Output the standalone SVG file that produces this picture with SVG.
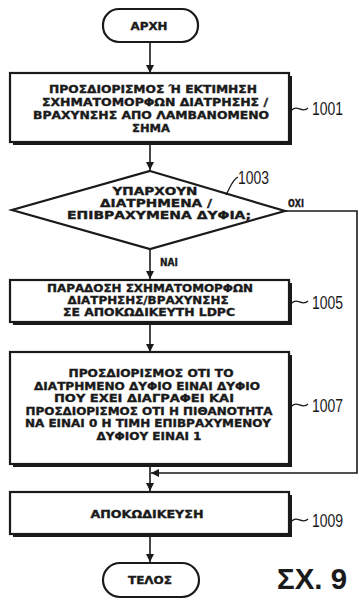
<svg xmlns="http://www.w3.org/2000/svg" width="359" height="601" viewBox="0 0 359 601">
<defs>
<marker id="ah" viewBox="0 0 10 10" refX="10" refY="5" markerWidth="8" markerHeight="8" markerUnits="userSpaceOnUse" orient="auto"><path d="M0,0 L10,5 L0,10 z" fill="#1a1a1a"/></marker>
</defs>
<style>
.box{fill:#fff;stroke:#1a1a1a;stroke-width:2.2}
.sh{fill:#1a1a1a}
.t{font-family:"DejaVu Sans","Liberation Sans",sans-serif;font-weight:bold;font-size:10.2px;fill:#1a1a1a;stroke:#1a1a1a;stroke-width:0.35;text-anchor:middle}
.lbl{font-family:"Liberation Sans",Arial,sans-serif;font-size:18px;fill:#1a1a1a}
.ln{fill:none;stroke:#1a1a1a;stroke-width:1.6}
.ld{fill:none;stroke:#1a1a1a;stroke-width:1.3}
</style>
<rect width="359" height="601" fill="#fff"/>
<g id="connectors">
<line class="ln" x1="150" y1="43" x2="150" y2="73" marker-end="url(#ah)"/>
<line class="ln" x1="150" y1="144" x2="150" y2="170" marker-end="url(#ah)"/>
<line class="ln" x1="150" y1="248" x2="150" y2="279" marker-end="url(#ah)"/>
<line class="ln" x1="150" y1="325" x2="150" y2="352" marker-end="url(#ah)"/>
<line class="ln" x1="150" y1="467" x2="150" y2="491" marker-end="url(#ah)"/>
<line class="ln" x1="150" y1="537" x2="150" y2="562" marker-end="url(#ah)"/>
<polyline class="ln" points="285,211 357,211 357,473 151,473" marker-end="url(#ah)"/>
<text class="t" x="160" y="266" textLength="18" lengthAdjust="spacingAndGlyphs" style="text-anchor:start">ΝΑΙ</text>
<text class="t" x="288" y="207" textLength="16" lengthAdjust="spacingAndGlyphs" style="text-anchor:start">ΟΧΙ</text>
</g>
<g id="start">
<rect class="box" x="103" y="9" width="95" height="33" rx="16" ry="16"/>
<text class="t" x="149" y="29.5" textLength="37" lengthAdjust="spacingAndGlyphs">ΑΡΧΗ</text>
</g>
<g id="n1001">
<rect class="sh" x="13" y="76" width="279" height="69"/>
<rect class="box" x="10" y="73" width="279" height="69"/>
<text class="t" x="153" y="93" textLength="208" lengthAdjust="spacingAndGlyphs">ΠΡΟΣΔΙΟΡΙΣΜΟΣ Ή ΕΚΤΙΜΗΣΗ</text>
<text class="t" x="155" y="106" textLength="226" lengthAdjust="spacingAndGlyphs">ΣΧΗΜΑΤΟΜΟΡΦΩΝ ΔΙΑΤΡΗΣΗΣ /</text>
<text class="t" x="151" y="119" textLength="236" lengthAdjust="spacingAndGlyphs">ΒΡΑΧΥΝΣΗΣ ΑΠΟ ΛΑΜΒΑΝΟΜΕΝΟ</text>
<text class="t" x="151" y="132" textLength="38" lengthAdjust="spacingAndGlyphs">ΣΗΜΑ</text>
<path class="ld" d="M292,110 C297,104 302,114 308,108"/>
<text class="lbl" x="312" y="115" textLength="31" lengthAdjust="spacingAndGlyphs">1001</text>
</g>
<g id="n1003">
<polygon class="box" points="150,171 285,211 150,249 12,210" stroke-width="2.4"/>
<text class="t" x="155" y="195" textLength="85" lengthAdjust="spacingAndGlyphs">ΥΠΑΡΧΟΥΝ</text>
<text class="t" x="156" y="207" textLength="112" lengthAdjust="spacingAndGlyphs">ΔΙΑΤΡΗΜΕΝΑ /</text>
<text class="t" x="159" y="219" textLength="184" lengthAdjust="spacingAndGlyphs">ΕΠΙΒΡΑΧΥΜΕΝΑ ΔΥΦΙΑ;</text>
<path class="ld" d="M226,195 C230,188 232,180 238,177"/>
<text class="lbl" x="238" y="184" textLength="31" lengthAdjust="spacingAndGlyphs">1003</text>
</g>
<g id="n1005">
<rect class="sh" x="13" y="283" width="279" height="42"/>
<rect class="box" x="10" y="280" width="279" height="42"/>
<text class="t" x="150" y="292" textLength="206" lengthAdjust="spacingAndGlyphs">ΠΑΡΑΔΟΣΗ ΣΧΗΜΑΤΟΜΟΡΦΩΝ</text>
<text class="t" x="148" y="304" textLength="161" lengthAdjust="spacingAndGlyphs">ΔΙΑΤΡΗΣΗΣ/ΒΡΑΧΥΝΣΗΣ</text>
<text class="t" x="149" y="316" textLength="172" lengthAdjust="spacingAndGlyphs">ΣΕ ΑΠΟΚΩΔΙΚΕΥΤΗ LDPC</text>
<path class="ld" d="M292,303 C297,297 302,307 308,301"/>
<text class="lbl" x="312" y="309" textLength="31" lengthAdjust="spacingAndGlyphs">1005</text>
</g>
<g id="n1007">
<rect class="sh" x="13" y="355" width="279" height="112"/>
<rect class="box" x="10" y="352" width="279" height="112"/>
<text class="t" x="151" y="377" textLength="165" lengthAdjust="spacingAndGlyphs">ΠΡΟΣΔΙΟΡΙΣΜΟΣ ΟΤΙ ΤΟ</text>
<text class="t" x="147" y="389.5" textLength="226" lengthAdjust="spacingAndGlyphs">ΔΙΑΤΡΗΜΕΝΟ ΔΥΦΙΟ ΕΙΝΑΙ ΔΥΦΙΟ</text>
<text class="t" x="144" y="402" textLength="180" lengthAdjust="spacingAndGlyphs">ΠΟΥ ΕΧΕΙ ΔΙΑΓΡΑΦΕΙ ΚΑΙ</text>
<text class="t" x="149" y="414.5" textLength="247" lengthAdjust="spacingAndGlyphs">ΠΡΟΣΔΙΟΡΙΣΜΟΣ ΟΤΙ Η ΠΙΘΑΝΟΤΗΤΑ</text>
<text class="t" x="148" y="427" textLength="246" lengthAdjust="spacingAndGlyphs">ΝΑ ΕΙΝΑΙ 0 Η ΤΙΜΗ ΕΠΙΒΡΑΧΥΜΕΝΟΥ</text>
<text class="t" x="149" y="439.5" textLength="105" lengthAdjust="spacingAndGlyphs">ΔΥΦΙΟΥ ΕΙΝΑΙ 1</text>
<path class="ld" d="M292,406 C297,400 302,410 308,404"/>
<text class="lbl" x="312" y="412" textLength="31" lengthAdjust="spacingAndGlyphs">1007</text>
</g>
<g id="n1009">
<rect class="sh" x="13" y="495" width="279" height="42"/>
<rect class="box" x="10" y="492" width="279" height="42"/>
<text class="t" x="147" y="518" textLength="113" lengthAdjust="spacingAndGlyphs">ΑΠΟΚΩΔΙΚΕΥΣΗ</text>
<path class="ld" d="M292,521 C297,515 302,525 308,519"/>
<text class="lbl" x="312" y="527" textLength="31" lengthAdjust="spacingAndGlyphs">1009</text>
</g>
<g id="end">
<rect class="box" x="103" y="563" width="96" height="34" rx="17" ry="17"/>
<text class="t" x="150" y="584" textLength="44" lengthAdjust="spacingAndGlyphs">ΤΕΛΟΣ</text>
</g>
<text x="277" y="589" textLength="70" lengthAdjust="spacingAndGlyphs" style="font-family:'Liberation Sans',Arial,sans-serif;font-size:29px;font-weight:bold;fill:#1a1a1a">ΣΧ. 9</text>
</svg>
